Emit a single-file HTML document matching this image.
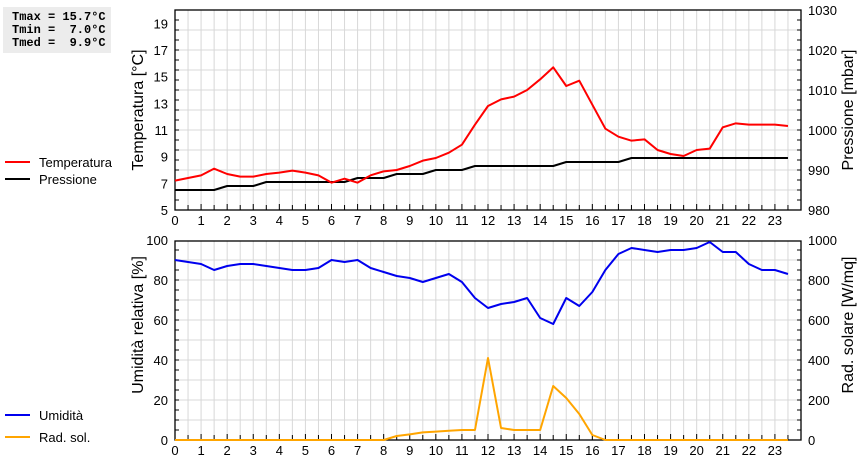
<!DOCTYPE html>
<html><head><meta charset="utf-8"><style>
body{margin:0;background:#fff;width:860px;height:460px;overflow:hidden}
svg{font-family:"Liberation Sans",Arial,sans-serif}
</style></head><body>
<svg id="c" width="860" height="460"></svg>
<script>
const hours=[];for(let i=0;i<48;i++)hours.push(i/2);
const temperature=[7.2,7.4,7.6,8.1,7.7,7.5,7.5,7.7,7.8,7.95,7.8,7.6,7.05,7.35,7.05,7.6,7.9,8.0,8.3,8.7,8.9,9.3,9.9,11.4,12.8,13.3,13.5,14.0,14.8,15.7,14.3,14.7,12.9,11.1,10.5,10.2,10.3,9.5,9.2,9.05,9.5,9.6,11.2,11.5,11.4,11.4,11.4,11.3];
const pressure=[985,985,985,985,986,986,986,987,987,987,987,987,987,987,988,988,988,989,989,989,990,990,990,991,991,991,991,991,991,991,992,992,992,992,992,993,993,993,993,993,993,993,993,993,993,993,993,993];
const humidity=[90,89,88,85,87,88,88,87,86,85,85,86,90,89,90,86,84,82,81,79,81,83,79,71,66,68,69,71,61,58,71,67,74,85,93,96,95,94,95,95,96,99,94,94,88,85,85,83];
const radiation=[0,0,0,0,0,0,0,0,0,0,0,0,0,0,0,0,0,20,28,38,42,46,50,50,410,60,50,50,50,270,210,130,25,0,0,0,0,0,0,0,0,0,0,0,0,0,0,0];
const tempTicks=[5,7,9,11,13,15,17,19];
const pressTicks=[980,990,1000,1010,1020,1030];
const humTicks=[0,20,40,60,80,100];
const radTicks=[0,200,400,600,800,1000];
const xTicks=[0,1,2,3,4,5,6,7,8,9,10,11,12,13,14,15,16,17,18,19,20,21,22,23];

const svg=document.getElementById('c');const NS='http://www.w3.org/2000/svg';
function el(t,a,p){const e=document.createElementNS(NS,t);for(const k in a)e.setAttribute(k,a[k]);(p||svg).appendChild(e);return e;}
const X0=175,X1=801;
const x=h=>X0+(X1-X0)*h/24;
const yT=v=>210-(v-5)*200/15;
const yP=v=>210-(v-980)*200/50;
const yH=v=>440-v*2;
const yR=v=>440-v*0.2;

function panel(top,bot,name){
  const g=el('g',{});
  for(let i=1;i<48;i++){const xx=x(i/2);el('line',{x1:xx,x2:xx,y1:top,y2:bot,stroke:'#d8d8d8','stroke-width':1},g);}
  for(let yy=bot-20;yy>top;yy-=20)el('line',{x1:X0,x2:X1,y1:yy,y2:yy,stroke:'#d8d8d8','stroke-width':1},g);
  el('rect',{x:X0,y:top,width:X1-X0,height:bot-top,fill:'none',stroke:'#000','stroke-width':1.3},g);
  for(let i=1;i<48;i++){el('line',{x1:x(i/2),x2:x(i/2),y1:bot,y2:bot-(i%2?5:6),stroke:'#000'},g);}
  for(let yy=bot;yy>=top;yy-=10){el('line',{x1:X0,x2:X0+4,y1:yy,y2:yy,stroke:'#000'},g);el('line',{x1:X1,x2:X1-4,y1:yy,y2:yy,stroke:'#000'},g);}
  xTicks.forEach(h=>{const t=el('text',{x:x(h),y:bot+15,'font-size':13,'text-anchor':'middle'},g);t.textContent=h;});
  return g;
}
function line(data,xs,fy,color,name,w){
  const p=el('polyline',{points:data.map((v,i)=>x(xs[i])+','+fy(v)).join(' '),fill:'none',stroke:color,'stroke-width':w||2,'stroke-linejoin':'round'});
  
}
function label(txt,xx,yy,anchor,name,size){const t=el('text',{x:xx,y:yy,'font-size':size||13,'text-anchor':anchor});t.textContent=txt;return t;}

panel(10,210,'top-panel');
tempTicks.forEach(v=>label(v,168,yT(v)+5,'end','temp-tick'));
pressTicks.forEach(v=>label(v,808,yP(v)+5,'start','pressure-tick'));
line(pressure,hours,yP,'#000','pressure-line');
line(temperature,hours,yT,'#ff0000','temperature-line');
let t=label('Temperatura [°C]',143,110,'middle','temp-axis-title',16);t.setAttribute('transform','rotate(-90 143 110)');
t=label('Pressione [mbar]',853,110,'middle','pressure-axis-title',16);t.setAttribute('transform','rotate(-90 853 110)');

panel(241,440,'bottom-panel');
humTicks.forEach(v=>label(v,168,yH(v)+5,'end','humidity-tick'));
radTicks.forEach(v=>label(v,808,yR(v)+5,'start','radiation-tick'));
line(humidity,hours,yH,'#0000ee','humidity-line');
line(radiation,hours,yR,'#ffa500','radiation-line');
t=label('Umidità relativa [%]',143,325,'middle','humidity-axis-title',16);t.setAttribute('transform','rotate(-90 143 325)');
t=label('Rad. solare [W/mq]',853,325,'middle','radiation-axis-title',16);t.setAttribute('transform','rotate(-90 853 325)');

[['Temperatura','#ff0000',162],['Pressione','#000',179],['Umidità','#0000ee',415],['Rad. sol.','#ffa500',437]].forEach(l=>{
  const g=el('g',{});
  el('line',{x1:5,x2:30,y1:l[2],y2:l[2],stroke:l[1],'stroke-width':2},g);
  const tt=el('text',{x:39,y:l[2]+5,'font-size':13},g);tt.textContent=l[0];
});
const box=el('g',{});
el('rect',{x:3,y:7,width:108,height:46,fill:'#ececec'},box);
['Tmax = 15.7°C','Tmin =  7.0°C','Tmed =  9.9°C'].forEach((s,i)=>{
  const tt=el('text',{x:12,y:20+i*13,'font-size':12,'font-weight':'bold','font-family':'Liberation Mono, monospace','xml:space':'preserve'},box);tt.textContent=s;tt.style.whiteSpace='pre';
});
</script>
</body></html>
